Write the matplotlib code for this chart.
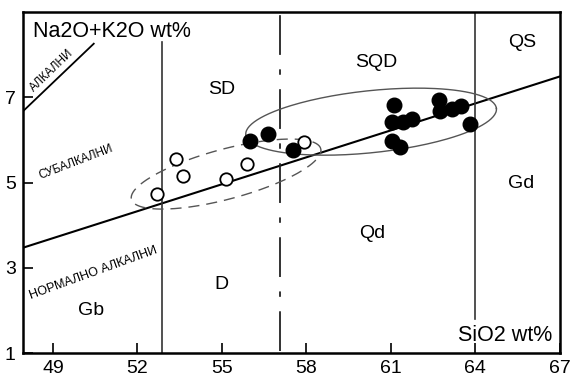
import numpy as np
import matplotlib
matplotlib.use("Agg")
import matplotlib.pyplot as plt

plt.rcParams['font.family'] = ['Liberation Sans', 'DejaVu Sans']

# samples: open circles (first group) and filled circles (second group)
open_sio2 = [53.36, 53.61, 52.69, 55.14, 55.88, 57.91]
open_alk = [5.56, 5.16, 4.74, 5.09, 5.44, 5.95]
filled_sio2 = [55.99, 56.63, 57.51, 61.10, 61.06, 61.42, 61.77, 61.06, 61.31,
               62.70, 62.73, 63.19, 63.48, 63.80]
filled_alk = [5.98, 6.14, 5.77, 6.81, 6.42, 6.42, 6.49, 5.98, 5.84,
              6.95, 6.67, 6.72, 6.79, 6.37]

# diagram boundaries
main_x = [47.93, 67.0]
main_y = [3.47, 7.49]
alk_x = [47.93, 50.45]
alk_y = [6.67, 8.26]

fields = ['SD', 'SQD', 'QS', 'Gd', 'Qd', 'D', 'Gb']
field_x = [55.0, 60.5, 65.68, 65.64, 60.35, 54.99, 50.34]
field_y = [7.19, 7.81, 8.28, 4.98, 3.81, 2.6, 2.0]

xticks = [49, 52, 55, 58, 61, 64, 67]
yticks = [1, 3, 5, 7]

XMIN, XMAX, YMIN, YMAX = 47.93, 67.0, 1.0, 9.0

fig = plt.figure(figsize=(5.7, 3.8), dpi=100)
ax = fig.add_axes([0.040, 0.071, 0.942, 0.897])
ax.set_xlim(XMIN, XMAX)
ax.set_ylim(YMIN, YMAX)

# pixels per data unit, used to draw the tilted envelopes
px_x = 0.942 * 570 / (XMAX - XMIN)
px_y = 0.897 * 380 / (YMAX - YMIN)


def envelope(cx, cy, a, b, ang, **kw):
    # a, b in pixels; ang in degrees (screen space)
    t = np.linspace(0, 2 * np.pi, 200)
    u = a * np.cos(t)
    v = b * np.sin(t)
    th = np.deg2rad(ang)
    X = u * np.cos(th) - v * np.sin(th)
    Y = u * np.sin(th) + v * np.cos(th)
    ax.plot(cx + X / px_x, cy + Y / px_y, **kw)


# field boundaries
ax.plot(main_x, main_y, color='black', lw=1.5, zorder=2)
ax.plot(alk_x, alk_y, color='black', lw=1.3, zorder=2)
ax.plot([52.87, 52.87], [1, 8.3], color='#333333', lw=1.2)
ax.plot([64.0, 64.0], [1.81, 9], color='#333333', lw=1.2)
ax.plot([57.05, 57.05], [1.05, 9], color='#222222', lw=1.3,
        linestyle=(0, (22, 8, 3, 8)))

# envelopes
envelope(55.15, 5.2, 98, 25, 15, color='#555555', lw=1.0, linestyle=(0, (8, 5)))
envelope(60.3, 6.43, 126, 31, 6, color='#555555', lw=1.0)

ax.scatter(open_sio2, open_alk, s=80, facecolors='white', edgecolors='black',
           linewidths=1.3, zorder=4)
ax.scatter(filled_sio2, filled_alk, s=110, color='black', zorder=4)

for name, x, y in zip(fields, field_x, field_y):
    ax.text(x, y, name, fontsize=14, ha='center', va='center')

ax.text(48.3, 8.55, 'Na2O+K2O wt%', fontsize=15.5, ha='left', va='center')
ax.text(66.75, 1.42, 'SiO2 wt%', fontsize=15.5, ha='right', va='center')

ax.text(48.95, 7.63, 'АЛКАЛНИ', fontsize=8.5, rotation=44, ha='center', va='center')
ax.text(49.8, 5.47, 'СУБАЛКАЛНИ', fontsize=8.5, rotation=21, ha='center', va='center')
ax.text(50.45, 2.88, 'НОРМАЛНО АЛКАЛНИ', fontsize=9, rotation=20,
        ha='center', va='center')

ax.set_xticks(xticks)
ax.set_yticks(yticks)
ax.tick_params(direction='in', length=7, width=1.2, labelsize=14, pad=5)
for s in ax.spines.values():
    s.set_linewidth(1.8)

fig.savefig('out.png', dpi=100)
